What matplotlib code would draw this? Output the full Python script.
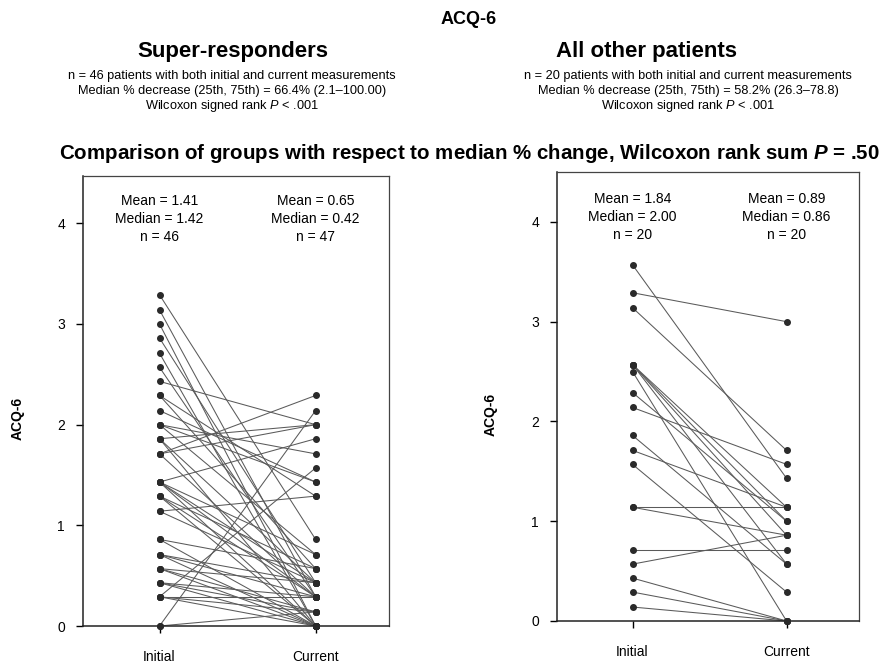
import matplotlib
matplotlib.use('Agg')
import matplotlib.pyplot as plt

plt.rcParams['font.family'] = ['Liberation Sans', 'DejaVu Sans']
plt.rcParams['mathtext.fontset'] = 'custom'
plt.rcParams['mathtext.rm'] = 'Liberation Sans'
plt.rcParams['mathtext.it'] = 'Liberation Sans:italic'
plt.rcParams['mathtext.bf'] = 'Liberation Sans:bold:italic'

# ---------------- data ----------------
time_labels = ['Initial', 'Current']
y_ticks = [0, 1, 2, 3, 4]

# Super-responders: paired initial -> current values
sr_initial = [0.00, 0.00, 1.71, 1.43, 1.14, 0.29, 2.43, 2.00, 2.00, 1.86, 1.71, 2.29, 2.14,
              3.29, 3.14, 3.00, 2.86, 2.71, 2.57, 2.29, 2.00, 1.86, 1.86, 1.71,
              1.43, 1.43, 1.43, 1.43, 1.29, 1.29, 1.29, 1.14, 0.86, 0.86,
              0.71, 0.71, 0.71, 0.57, 0.57, 0.57, 0.43, 0.43, 0.43, 0.29, 0.29, 0.29]
sr_current = [2.14, 0.14, 2.29, 1.86, 1.29, 1.57, 2.00, 1.71, 1.43, 2.00, 2.00, 1.29, 1.43,
              0.86, 0.29, 0.00, 0.43, 0.00, 0.29, 0.57, 0.71, 0.43, 0.00, 0.29,
              0.71, 0.43, 0.29, 0.00, 0.57, 0.29, 0.00, 0.43, 0.57, 0.00,
              0.43, 0.29, 0.00, 0.43, 0.14, 0.00, 0.29, 0.14, 0.00, 0.29, 0.14, 0.00]
sr_current_only = [0.00]   # one patient with a current measurement only (n = 47)

# All other patients: paired initial -> current values
op_initial = [3.57, 3.29, 3.14, 2.57, 2.57, 2.57, 2.57, 2.50, 2.29, 2.14,
              1.86, 1.71, 1.57, 1.14, 1.14, 0.71, 0.57, 0.43, 0.29, 0.14]
op_current = [1.43, 3.00, 1.71, 1.14, 1.00, 0.86, 0.57, 0.00, 1.00, 1.57,
              0.57, 1.14, 0.29, 1.14, 0.86, 0.71, 0.86, 0.00, 0.00, 0.00]

sr_stats = [['Mean = 1.41', 'Median = 1.42', 'n = 46'],
            ['Mean = 0.65', 'Median = 0.42', 'n = 47']]
op_stats = [['Mean = 1.84', 'Median = 2.00', 'n = 20'],
            ['Mean = 0.89', 'Median = 0.86', 'n = 20']]

# ---------------- figure ----------------
W, H = 886, 663
fig = plt.figure(figsize=(W / 100, H / 100), dpi=100)
fig.patch.set_facecolor('white')


def fx(x):
    return x / W


def fy(y):
    return 1 - y / H


LINE_C = '#5a5a5a'
DOT_C = '#2a2a2a'


def panel(rect, ytop, initial, current, extra, stats, stat_y):
    ax = fig.add_axes(rect)
    for a, b in zip(initial, current):
        ax.plot([0, 1], [a, b], color=LINE_C, lw=0.75, zorder=2, clip_on=False)
    ax.plot([0] * len(initial), initial, 'o', color=DOT_C, ms=4.0, zorder=3, clip_on=False)
    ax.plot([1] * (len(current) + len(extra)), list(current) + list(extra), 'o',
            color=DOT_C, ms=4.0, zorder=3, clip_on=False)
    ax.set_xlim(-0.49, 1.47)
    ax.set_ylim(0, ytop)
    ax.set_yticks(y_ticks)
    ax.set_xticks([0, 1])
    ax.set_xticklabels(time_labels)
    ax.tick_params(axis='both', labelsize=10, length=5, width=1, direction='out')
    ax.tick_params(axis='x', pad=12)
    ax.tick_params(axis='y', pad=8)
    for s in ['left', 'bottom']:
        ax.spines[s].set_linewidth(1.1)
        ax.spines[s].set_color('#222222')
    for s in ['top', 'right']:
        ax.spines[s].set_linewidth(0.9)
        ax.spines[s].set_color('#444444')
    for xi, lines in zip([0, 1], stats):
        for yv, t in zip(stat_y, lines):
            ax.text(xi, yv, t, ha='center', va='center', fontsize=10)
    return ax


ax1 = panel([fx(83), fy(626), 306 / W, 450 / H], 4.47, sr_initial, sr_current,
            sr_current_only, sr_stats, [4.22, 4.04, 3.86])
ax2 = panel([fx(557), fy(621), 302 / W, 449 / H], 4.50, op_initial, op_current,
            [], op_stats, [4.23, 4.05, 3.87])

fig.text(fx(18), fy(418), 'ACQ-6', rotation=90, ha='center', va='center',
         fontsize=10, fontweight='bold')
fig.text(fx(491), fy(414), 'ACQ-6', rotation=90, ha='center', va='center',
         fontsize=10, fontweight='bold')

# ---------------- titles ----------------
fig.text(fx(469), fy(20), 'ACQ-6', ha='center', va='center', fontsize=13, fontweight='bold')
fig.text(fx(233), fy(52), 'Super-responders', ha='center', va='center',
         fontsize=16, fontweight='bold')
fig.text(fx(647), fy(52), 'All other patients', ha='center', va='center',
         fontsize=16, fontweight='bold')

left_sub = ['n = 46 patients with both initial and current measurements',
            'Median % decrease (25th, 75th) = 66.4% (2.1\u2013100.00)',
            r'Wilcoxon signed rank $\mathit{P}$ < .001']
right_sub = ['n = 20 patients with both initial and current measurements',
             'Median % decrease (25th, 75th) = 58.2% (26.3\u201378.8)',
             r'Wilcoxon signed rank $\mathit{P}$ < .001']
for yy, tl, tr in zip([76, 91, 106], left_sub, right_sub):
    fig.text(fx(232), fy(yy), tl, ha='center', va='center', fontsize=9.2)
    fig.text(fx(688), fy(yy), tr, ha='center', va='center', fontsize=9.2)

fig.text(fx(469), fy(153),
         r'Comparison of groups with respect to median % change, Wilcoxon rank sum $\mathbf{P}$ = .50',
         ha='center', va='center', fontsize=14.8, fontweight='bold')

fig.savefig('out.png', dpi=100)
